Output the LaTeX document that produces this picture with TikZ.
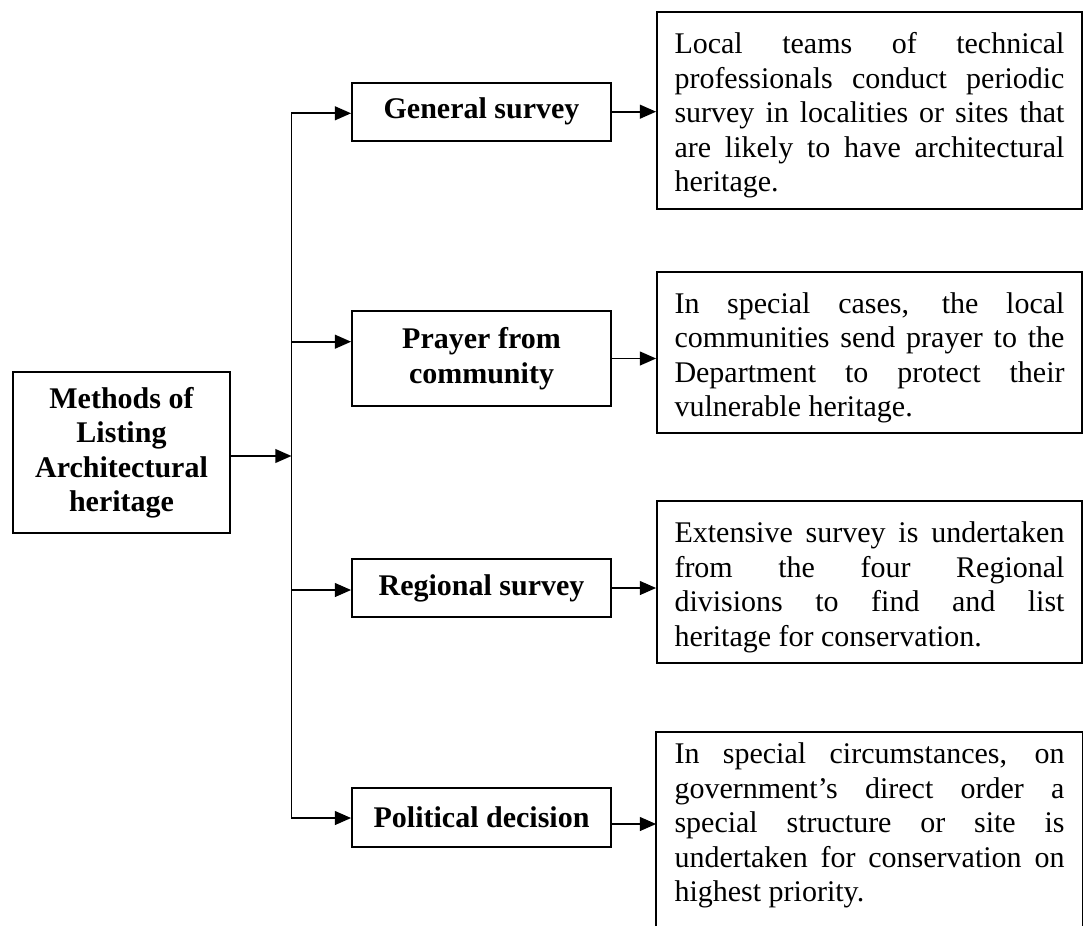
\documentclass[tikz,border=0pt]{standalone}
\usepackage{fontspec}
\setmainfont{Liberation Serif}
\usetikzlibrary{arrows.meta}
\newcommand\justset{\tolerance=10000\hbadness=10000\hyphenpenalty=10000\relax}
\newcommand\dropdown{\rule{0pt}{12.5pt}}
\tikzset{
  methodbox/.style={draw, line width=0.7pt, font=\fontsize{12}{13.8}\selectfont\bfseries,
    align=center, inner sep=0pt, minimum width=103.6pt},
  rootbox/.style={draw, line width=0.7pt, font=\fontsize{12}{13.8}\selectfont\bfseries,
    align=center, inner sep=0pt, minimum width=86.8pt, minimum height=64.4pt},
  descbox/.style={draw, line width=0.7pt, font=\fontsize{12}{13.8}\selectfont,
    text width=156pt, align=justify, inner xsep=7pt, inner ysep=0pt},
  arr/.style={-{Triangle[length=6.5pt,width=5.5pt]}, line width=0.75pt},
  conn/.style={line width=0.75pt}
}
\begin{document}
\begin{tikzpicture}[x=0.4pt,y=-0.4pt]
\useasboundingbox (0,0) rectangle (1083,926);

% root
\node[rootbox] (root) at (121.5,452.5) {Methods of\\Listing\\Architectural\\heritage};

% middle boxes
\node[methodbox, minimum height=23.2pt] (gen) at (481.5,111.7) {General survey};
\node[methodbox, minimum height=38pt] (pray) at (481.5,358.5) {Prayer from\\community};
\node[methodbox, minimum height=23.2pt] (reg) at (481.5,588) {Regional survey};
\node[methodbox, minimum height=23.6pt] (pol) at (481.5,817.5) {Political decision};

% description boxes
\node[descbox, minimum height=78.8pt] (d1) at (869.5,110.5) {\justset\dropdown
Local teams of technical\linebreak professionals conduct periodic\linebreak survey in localities or sites that\linebreak are likely to have architectural\linebreak heritage.};
\node[descbox, minimum height=64.4pt] (d2) at (869.5,352.5) {\justset\dropdown
In special cases, the local\linebreak communities send prayer to the\linebreak Department to protect their\linebreak vulnerable heritage.};
\node[descbox, minimum height=64.8pt] (d3) at (869.5,582) {\justset\dropdown
Extensive survey is undertaken\linebreak from the four Regional\linebreak divisions to find and list\linebreak heritage for conservation.};
\node[descbox, draw=none, anchor=north, inner ysep=4pt] (d4) at (869.5,732) {\justset
In special circumstances, on\linebreak government’s direct order a\linebreak special structure or site is\linebreak undertaken for conservation on\linebreak highest priority.};
\coordinate (pagebottom) at (0,926);
\draw[conn] (d4.north west |- pagebottom) -- (d4.north west) -- (d4.north east) -- (d4.north east |- pagebottom);

% trunk junctions
\coordinate (j1) at (291.5,113.3);
\coordinate (j2) at (291.5,341.7);
\coordinate (jm) at (291.5,456);
\coordinate (j3) at (291.5,590);
\coordinate (j4) at (291.5,818);

\draw[arr] (j4) -- (j1) -- (j1 -| gen.west);
\draw[arr] (j1) -- (j4) -- (j4 -| pol.west);
\draw[arr] (j2) -- (j2 -| pray.west);
\draw[arr] (j3) -- (j3 -| reg.west);
\draw[arr] (jm -| root.east) -- (jm);

% right connectors
\draw[arr] (gen.east) -- (gen.east -| d1.west);
\draw[arr] (pray.east) -- (pray.east -| d2.west);
\draw[arr] (reg.east) -- (reg.east -| d3.west);
\draw[arr] ([yshift=-2.6pt]pol.east) -- ([yshift=-2.6pt]pol.east -| d4.west);
\end{tikzpicture}
\end{document}
